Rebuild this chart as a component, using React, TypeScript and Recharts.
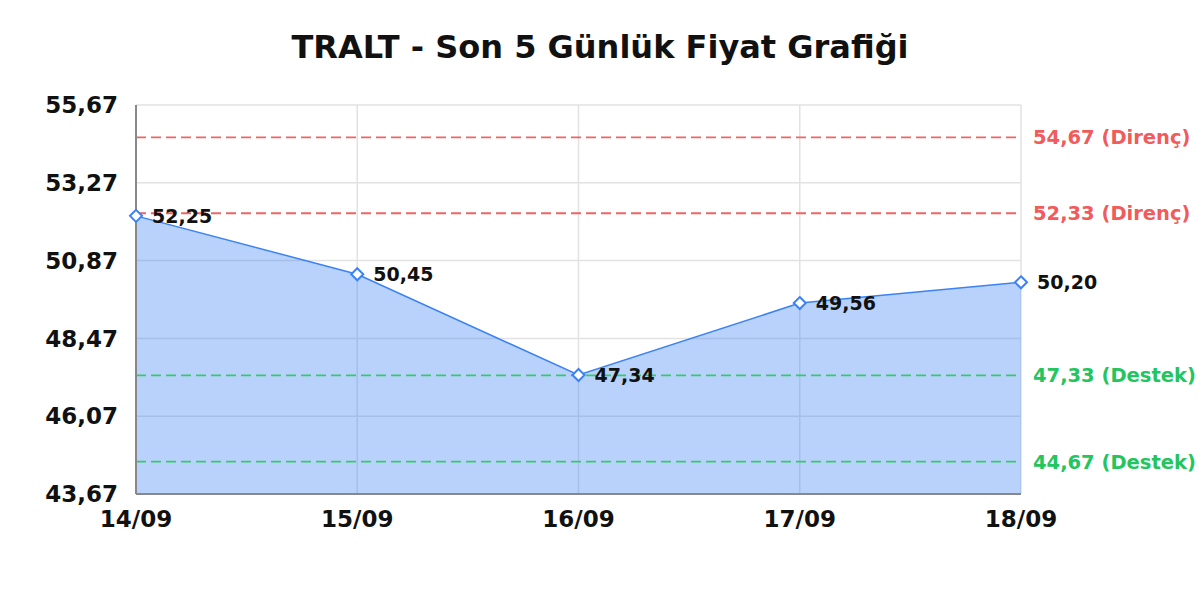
import { Area, AreaChart, CartesianGrid, LabelList, ReferenceLine, XAxis, YAxis } from "recharts";

const dates = ["14/09", "15/09", "16/09", "17/09", "18/09"];
const prices = [52.25, 50.45, 47.34, 49.56, 50.2];
const yTicks = [43.67, 46.07, 48.47, 50.87, 53.27, 55.67];
const resistance = [54.67, 52.33];
const support = [47.33, 44.67];

const data = dates.map((d, i) => ({ date: d, price: prices[i] }));

const FONT = "'DejaVu Sans', sans-serif";
const BLUE = "#3b82f6";
const RED = "#ef4444";
const GREEN = "#22c55e";

const fmt = (v: number) => v.toFixed(2).replace(".", ",");

function Diamond(props: any) {
  const { cx, cy, index } = props;
  if (cx == null || cy == null) return null;
  const r = 6;
  return (
    <path
      key={index}
      d={`M${cx},${cy - r} L${cx + r},${cy} L${cx},${cy + r} L${cx - r},${cy} Z`}
      fill="#fff"
      stroke={BLUE}
      strokeWidth={2}
    />
  );
}

export default function App() {
  return (
    <div style={{ position: "absolute", left: 0, top: 0, width: 1200, height: 600, background: "#fff", fontFamily: FONT }}>
      <div
        style={{
          position: "absolute",
          top: 27,
          left: 0,
          width: 1200,
          textAlign: "center",
          fontSize: 32,
          fontWeight: "bold",
          color: "#111",
          lineHeight: "40px",
        }}
      >
        TRALT - Son 5 Günlük Fiyat Grafiği
      </div>
      <AreaChart
        width={1200}
        height={600}
        data={data}
        margin={{ top: 105, right: 179, bottom: 76, left: 0 }}
        style={{ position: "absolute", left: 0, top: 0 }}
      >
        <CartesianGrid stroke="#e2e2e2" strokeWidth={1.5} />
        <XAxis
          dataKey="date"
          height={30}
          tickLine={false}
          tickSize={6}
          tickMargin={11}
          stroke="#888"
          strokeWidth={2}
          tick={{ fill: "#111", fontSize: 23, fontWeight: "bold", fontFamily: FONT }}
          interval={0}
        />
        <YAxis
          width={136}
          domain={[43.67, 55.67]}
          ticks={yTicks}
          tickFormatter={fmt}
          tickLine={false}
          tickSize={6}
          tickMargin={12}
          stroke="#888"
          strokeWidth={2}
          tick={{ fill: "#111", fontSize: 23, fontWeight: "bold", fontFamily: FONT }}
          allowDataOverflow
        />
        <Area
          type="linear"
          dataKey="price"
          stroke={BLUE}
          strokeWidth={1.5}
          fill={BLUE}
          fillOpacity={0.36}
          dot={Diamond}
          activeDot={false}
          isAnimationActive={false}
        >
          <LabelList
            dataKey="price"
            position="right"
            offset={16}
            formatter={(v: any) => fmt(Number(v))}
            fill="#111"
            fontSize={19}
            fontWeight="bold"
            fontFamily={FONT}
          />
        </Area>
        {resistance.map((v) => (
          <ReferenceLine
            key={v}
            y={v}
            stroke="#f06464"
            strokeWidth={1.8}
            strokeDasharray="10 5"
            label={{
              value: `${fmt(v)} (Direnç)`,
              position: "right",
              offset: 12,
              fill: RED,
              fillOpacity: 0.9,
              fontSize: 19.5,
              fontWeight: "bold",
              fontFamily: FONT,
            }}
          />
        ))}
        {support.map((v) => (
          <ReferenceLine
            key={v}
            y={v}
            stroke="#34c96a"
            strokeWidth={1.8}
            strokeDasharray="10 5"
            label={{
              value: `${fmt(v)} (Destek)`,
              position: "right",
              offset: 12,
              fill: GREEN,
              fontSize: 19.5,
              fontWeight: "bold",
              fontFamily: FONT,
            }}
          />
        ))}
      </AreaChart>
    </div>
  );
}
